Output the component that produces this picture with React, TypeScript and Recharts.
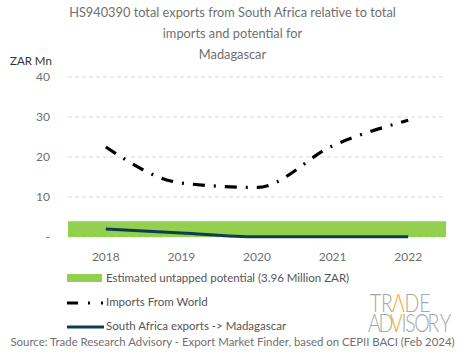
import React from "react";
import { LineChart, Line, XAxis, YAxis, CartesianGrid, ReferenceArea } from "recharts";

const years = ["2018", "2019", "2020", "2021", "2022"];
const importsFromWorld = [22.5, 13.5, 12.4, 22.8, 29.2];
const saExports = [2.0, 1.0, 0.05, 0.05, 0.05];
const untappedPotential = 3.96;
const yTicks = [0, 10, 20, 30, 40];

const data = years.map((y, i) => ({ year: y, imports: importsFromWorld[i], sa: saExports[i] }));

const FONT = "Lato, 'Open Sans', sans-serif";
const GRAY = "#6f6f6f";
const GREEN = "#92d050";
const TEAL = "#0e3d4f";
const LOGO_GRAY = "#a6a6a6";
const LOGO_ORANGE = "#f5a623";

const logoTop = [
  { ch: "T", cx: 375.5 }, { ch: "R", cx: 387 }, { ch: "Λ", cx: 398.5, o: true }, { ch: "D", cx: 412 }, { ch: "E", cx: 425 },
];
const logoBottom = [
  { ch: "A", cx: 374.5 }, { ch: "D", cx: 386 }, { ch: "V", cx: 396.5, o: true }, { ch: "I", cx: 404 },
  { ch: "S", cx: 410.5 }, { ch: "O", cx: 422 }, { ch: "R", cx: 433.5 }, { ch: "Y", cx: 445.5 },
];

export default function App() {
  return (
    <div style={{ position: "absolute", left: 0, top: 0, width: 465, height: 359, background: "#fff", fontFamily: FONT, overflow: "hidden" }}>
      <div style={{ position: "absolute", left: 0, top: 2, width: 465, textAlign: "center", color: GRAY, fontSize: 12.8, lineHeight: "21px" }}>
        <div>HS940390 total exports from South Africa relative to total</div>
        <div>imports and potential for</div>
        <div>Madagascar</div>
      </div>
      <div style={{ position: "absolute", left: 10, top: 54, color: "#333", fontSize: 11.5 }}>ZAR Mn</div>
      <div style={{ position: "absolute", left: 0, top: 0 }}>
        <LineChart width={465} height={290} data={data} margin={{ top: 77, right: 19, left: 0, bottom: 23 }}>
          <CartesianGrid vertical={false} stroke="#d9d9d9" strokeDasharray="4 3" />
          <XAxis dataKey="year" scale="band" axisLine={false} tickLine={false} height={30} tickMargin={9}
            tick={{ fill: GRAY, fontSize: 12, fontFamily: FONT }} />
          <YAxis width={68} domain={[0, 40]} ticks={yTicks} axisLine={false} tickLine={false} tickMargin={12}
            tickFormatter={(v: number) => (v === 0 ? "-" : String(v))}
            tick={{ fill: GRAY, fontSize: 12, fontFamily: FONT }} />
          <ReferenceArea y1={0} y2={untappedPotential} fill={GREEN} fillOpacity={1} stroke="none" />
          <Line type="monotone" dataKey="imports" stroke="#000" strokeWidth={3.2} strokeDasharray="12 9 2 9" dot={false} isAnimationActive={false} />
          <Line type="monotone" dataKey="sa" stroke={TEAL} strokeWidth={3} dot={false} isAnimationActive={false} />
        </LineChart>
      </div>
      <div style={{ position: "absolute", left: 67, top: 270, color: "#555", fontSize: 11.5, lineHeight: "16px" }}>
        <div style={{ display: "flex", alignItems: "center", height: 16 }}>
          <span style={{ display: "inline-block", width: 35, height: 8, background: GREEN, marginRight: 4 }} />
          Estimated untapped potential (3.96 Million ZAR)
        </div>
        <div style={{ display: "flex", alignItems: "center", height: 16, marginTop: 8 }}>
          <svg width={37} height={8} style={{ marginRight: 2 }}>
            <line x1={0} y1={5} x2={37} y2={5} stroke="#000" strokeWidth={3} strokeDasharray="11 10 2 11 2 20" />
          </svg>
          Imports From World
        </div>
        <div style={{ display: "flex", alignItems: "center", height: 16, marginTop: 8 }}>
          <svg width={37} height={8} style={{ marginRight: 2 }}>
            <line x1={0} y1={5} x2={37} y2={5} stroke={TEAL} strokeWidth={3} />
          </svg>
          South Africa exports -&gt; Madagascar
        </div>
      </div>
      <svg style={{ position: "absolute", left: 0, top: 0 }} width={465} height={359} pointerEvents="none">
        {logoTop.map((l, i) => (
          <text key={"t" + i} transform={`translate(${l.cx},312) scale(0.78,1)`} textAnchor="middle" fontSize={25}
            fontFamily="Lato, sans-serif" fontWeight={300} fill={l.o ? LOGO_ORANGE : LOGO_GRAY}>{l.ch}</text>
        ))}
        {logoBottom.map((l, i) => (
          <text key={"b" + i} transform={`translate(${l.cx},332) scale(0.78,1)`} textAnchor="middle" fontSize={25}
            fontFamily="Lato, sans-serif" fontWeight={300} fill={l.o ? LOGO_ORANGE : LOGO_GRAY}>{l.ch}</text>
        ))}
      </svg>
      <div style={{ position: "absolute", left: 0, top: 335, width: 465, textAlign: "center", color: GRAY, fontSize: 11.4, whiteSpace: "nowrap" }}>
        Source: Trade Research Advisory - Export Market Finder, based on CEPII BACI (Feb 2024)
      </div>
    </div>
  );
}
